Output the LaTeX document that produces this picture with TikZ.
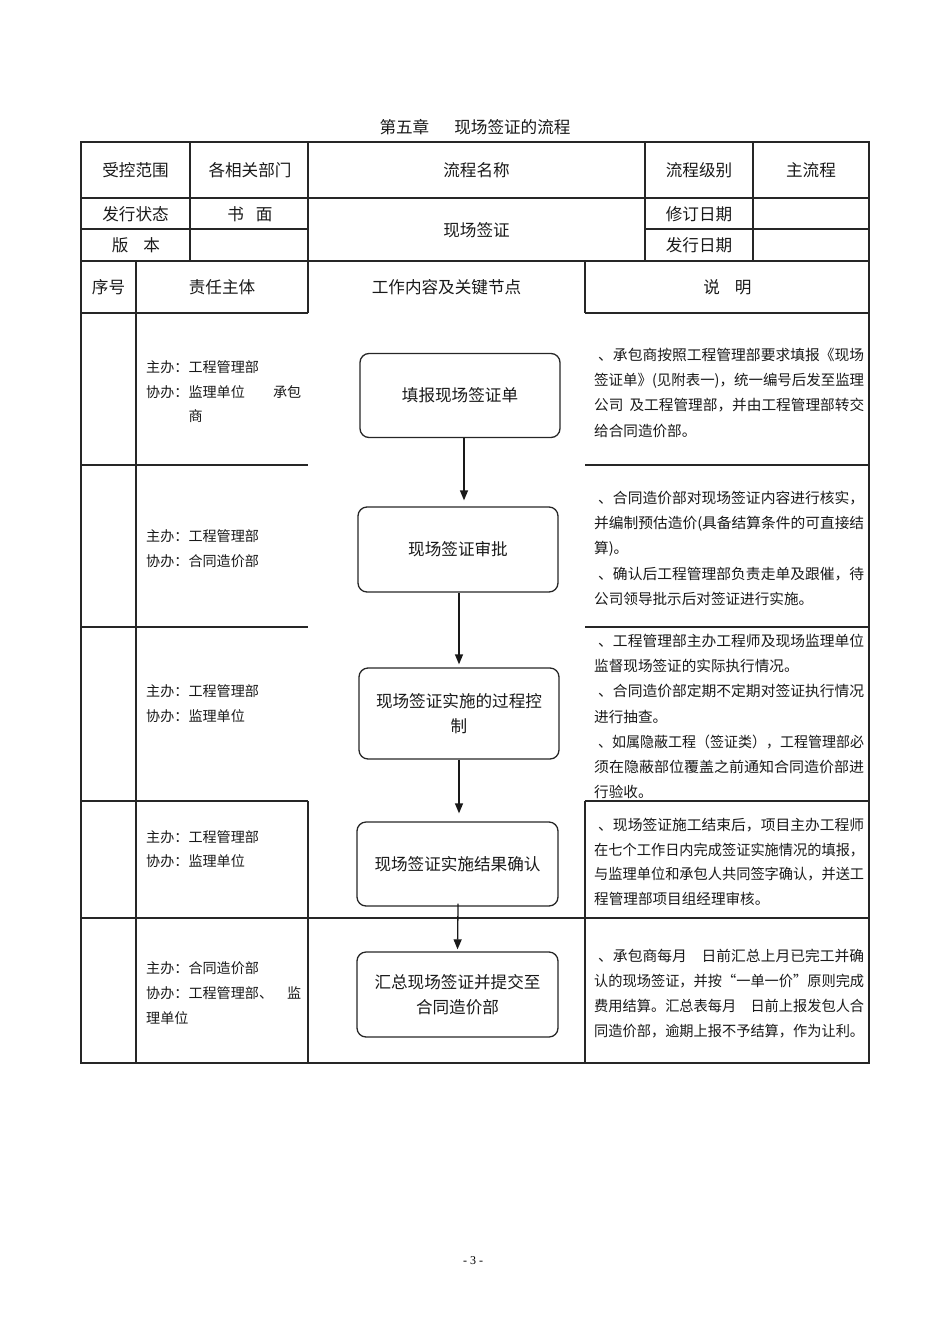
\documentclass[tikz,border=0pt]{standalone}
\usepackage{fontspec}
\setmainfont{Liberation Serif}
\newfontfamily\cjk{Noto Sans CJK SC}
\usetikzlibrary{arrows.meta}
\newlength\jlen
\newcommand\jline[2]{\settowidth\jlen{#2}\pgfmathsetmacro\jratio{#1/\the\jlen}\scalebox{\jratio}[1]{#2}}
\tikzset{
  grid/.style={line width=1.1pt, black!85},
  flowbox/.style={draw=black!85, rounded corners=9pt, line width=1.3pt, align=center,
    font=\cjk\fontsize{16.6}{25}\selectfont, text=black!90, inner sep=0pt},
  hdr/.style={font=\cjk\fontsize{16.6}{20}\selectfont, inner sep=0pt, text=black!90,
    text height=14.6pt, text depth=2pt},
  lt/.style={anchor=west, font=\cjk\fontsize{14.1}{17}\selectfont, inner sep=0pt, text=black!90,
    text height=12.4pt, text depth=1.7pt},
  rt/.style={anchor=west, font=\cjk\fontsize{14.6}{17}\selectfont, inner sep=0pt, text=black!90,
    text height=12.8pt, text depth=1.8pt},
  arr/.style={-{Triangle[length=10pt,width=8pt]}, line width=1.3pt, black!90},
}
\begin{document}
\begin{tikzpicture}[x=1pt,y=-1pt]
\useasboundingbox (0,0) rectangle (950,1344);
% title
\node[hdr] (title) at (475,127) {第五章\hspace{25pt}现场签证的流程};
% ---- grid ----
\draw[grid] (81,142) rectangle (869,1063);
\draw[grid] (81,198) -- (869,198);
\draw[grid] (81,229) -- (308,229);
\draw[grid] (645,229) -- (869,229);
\draw[grid] (81,261) -- (869,261);
\foreach \x in {190,308,645,753} \draw[grid] (\x,142) -- (\x,261);
\draw[grid] (136,261) -- (136,1063);
\draw[grid] (308,261) -- (308,313);
\draw[grid] (585,261) -- (585,313);
\foreach \y in {313,465,627,801} {
  \draw[grid] (81,\y) -- (308,\y);
  \draw[grid] (585,\y) -- (869,\y);
}
\draw[grid] (81,918) -- (869,918);
\draw[grid] (308,801) -- (308,1063);
\draw[grid] (585,801) -- (585,1063);
% ---- header texts ----
\node[hdr] (h11) at (135.5,170) {受控范围};
\node[hdr] (h12) at (250,170) {各相关部门};
\node[hdr] (h13) at (476.5,170) {流程名称};
\node[hdr] (h14) at (699,170) {流程级别};
\node[hdr] (h15) at (811,170) {主流程};
\node[hdr] (h21) at (135.5,214) {发行状态};
\node[hdr] (h22) at (250,214) {书\hspace{12pt}面};
\node[hdr] (h23) at (476.5,230) {现场签证};
\node[hdr] (h24) at (699,214) {修订日期};
\node[hdr] (h31) at (136,245) {版\hspace{15pt}本};
\node[hdr] (h34) at (699,245) {发行日期};
\node[hdr] (h41) at (108.5,287) {序号};
\node[hdr] (h42) at (222,287) {责任主体};
\node[hdr] (h43) at (446.5,287) {工作内容及关键节点};
\node[hdr] (h44) at (727.5,287) {说\hspace{15pt}明};
% ---- left column ----
\node[lt] (l1a) at (146,367) {主办：工程管理部};
\node[lt] (l1b) at (146,392) {协办：监理单位　　承包};
\node[lt] (l1c) at (188.5,416) {商};
\node[lt] (l2a) at (146,536) {主办：工程管理部};
\node[lt] (l2b) at (146,561) {协办：合同造价部};
\node[lt] (l3a) at (146,691) {主办：工程管理部};
\node[lt] (l3b) at (146,716) {协办：监理单位};
\node[lt] (l4a) at (146,837) {主办：工程管理部};
\node[lt] (l4b) at (146,861) {协办：监理单位};
\node[lt] (l5a) at (146,968) {主办：合同造价部};
\node[lt] (l5b) at (146,993) {协办：工程管理部、　监};
\node[lt] (l5c) at (146,1018) {理单位};
% ---- flow boxes ----
\node[flowbox, minimum width=200pt, minimum height=84pt] (b1) at (460,395.5) {填报现场签证单};
\node[flowbox, minimum width=200pt, minimum height=85pt] (b2) at (458,549.5) {现场签证审批};
\node[flowbox, minimum width=200pt, minimum height=91pt] (b3) at (459,713.5) {现场签证实施的过程控\\制};
\node[flowbox, minimum width=201pt, minimum height=84pt] (b4) at (457.5,864) {现场签证实施结果确认};
\node[flowbox, minimum width=201pt, minimum height=85pt] (b5) at (457.5,994.5) {汇总现场签证并提交至\\合同造价部};
\draw[arr, shorten >=6pt] ([xshift=4pt]b1.south) -- ([xshift=6pt]b2.north);
\draw[arr, shorten >=3pt] ([xshift=1pt]b2.south) -- (b3.north);
\draw[arr, shorten >=8pt] (b3.south) -- ([xshift=1.5pt]b4.north);
\draw[arr, shorten <=-3pt, shorten >=2pt] ([xshift=0.5pt]b4.south) -- (b5.north);
% ---- right column ----
\node[rt] (r1a) at (598,355) {\jline{266}{、承包商按照工程管理部要求填报《现场}};
\node[rt] (r1b) at (594,380) {\jline{270}{签证单》(见附表一)，统一编号后发至监理}};
\node[rt] (r1c) at (594,405) {\jline{270}{公司\hspace{6pt}及工程管理部，并由工程管理部转交}};
\node[rt] (r1d) at (594,431) {给合同造价部。};
\node[rt] (r2a) at (598,498) {\jline{266}{、合同造价部对现场签证内容进行核实，}};
\node[rt] (r2b) at (594,523) {\jline{270}{并编制预估造价(具备结算条件的可直接结}};
\node[rt] (r2c) at (594,548) {算)。};
\node[rt] (r2d) at (598,574) {\jline{266}{、确认后工程管理部负责走单及跟催，待}};
\node[rt] (r2e) at (594,599) {公司领导批示后对签证进行实施。};
\node[rt] (r3a) at (598,641) {\jline{266}{、工程管理部主办工程师及现场监理单位}};
\node[rt] (r3b) at (594,666) {监督现场签证的实际执行情况。};
\node[rt] (r3c) at (598,691) {\jline{266}{、合同造价部定期不定期对签证执行情况}};
\node[rt] (r3d) at (594,717) {进行抽查。};
\node[rt] (r3e) at (598,742) {\jline{266}{、如属隐蔽工程（签证类），工程管理部必}};
\node[rt] (r3f) at (594,767) {\jline{270}{须在隐蔽部位覆盖之前通知合同造价部进}};
\node[rt] (r3g) at (594,792) {行验收。};
\node[rt] (r4a) at (598,825) {\jline{266}{、现场签证施工结束后，项目主办工程师}};
\node[rt] (r4b) at (594,850) {\jline{270}{在七个工作日内完成签证实施情况的填报，}};
\node[rt] (r4c) at (594,874) {\jline{270}{与监理单位和承包人共同签字确认，并送工}};
\node[rt] (r4d) at (594,899) {程管理部项目组经理审核。};
\node[rt] (r5a) at (598,956) {\jline{266}{、承包商每月　日前汇总上月已完工并确}};
\node[rt] (r5b) at (594,981) {\jline{270}{认的现场签证，并按“一单一价”原则完成}};
\node[rt] (r5c) at (594,1006) {\jline{270}{费用结算。汇总表每月　日前上报发包人合}};
\node[rt] (r5d) at (594,1031) {\jline{270}{同造价部，逾期上报不予结算，作为让利。}};
% page number
\node[font=\fontsize{12}{14}\selectfont, inner sep=0pt] (pg) at (473,1261) {- 3 -};
\end{tikzpicture}
\end{document}
